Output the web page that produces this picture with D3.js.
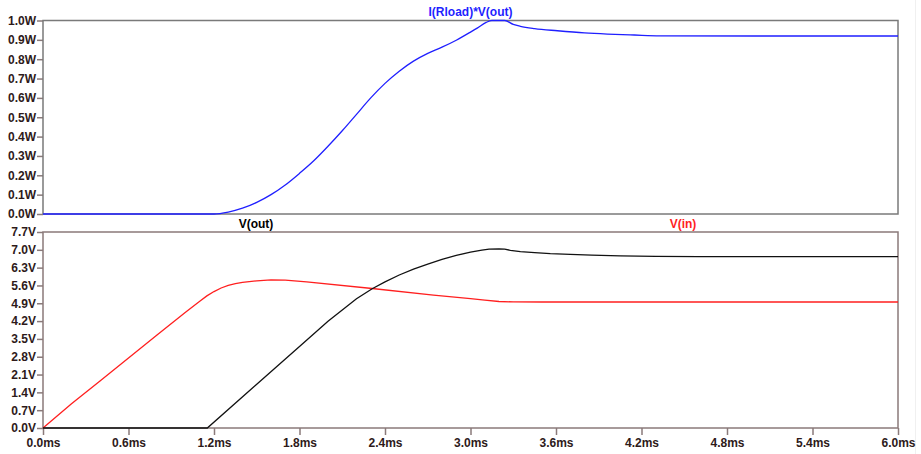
<!DOCTYPE html>
<html>
<head>
<meta charset="utf-8">
<script src="https://cdn.jsdelivr.net/npm/d3@7"></script>
<style>
  html, body { margin: 0; padding: 0; background: #fff; }
  svg text { font-family: "Liberation Sans", Arial, sans-serif; font-weight: bold; font-size: 12px; }
</style>
</head>
<body>
<div id="chart"></div>
<script>
// time axis (ms)
const timeTicks = [0, 0.6, 1.2, 1.8, 2.4, 3.0, 3.6, 4.2, 4.8, 5.4, 6.0];
const powerTicks = [0, 0.1, 0.2, 0.3, 0.4, 0.5, 0.6, 0.7, 0.8, 0.9, 1.0];
const voltTicks = [0, 0.7, 1.4, 2.1, 2.8, 3.5, 4.2, 4.9, 5.6, 6.3, 7.0, 7.7];

// I(Rload)*V(out), W
const powerT = [0, 1.2, 1.3, 1.4, 1.5, 1.6, 1.7, 1.8, 1.9, 2.0, 2.1, 2.2, 2.3, 2.4, 2.5, 2.6, 2.7, 2.8, 2.9, 3.0, 3.05, 3.11, 3.15, 3.24, 3.3, 3.35, 3.45, 3.61, 3.8, 3.96, 4.15, 4.33, 5.0, 6.0];
const powerW = [0, 0, 0.01, 0.03, 0.06, 0.10, 0.15, 0.21, 0.275, 0.35, 0.43, 0.515, 0.60, 0.675, 0.738, 0.79, 0.83, 0.862, 0.898, 0.94, 0.962, 0.99, 1.0, 1.0, 0.98, 0.97, 0.958, 0.947, 0.936, 0.930, 0.925, 0.921, 0.92, 0.92];

// V(out), V
const voutT = [0, 1.153, 1.5, 1.8, 2.0, 2.2, 2.31, 2.4, 2.5, 2.6, 2.7, 2.8, 2.9, 3.0, 3.08, 3.13, 3.2, 3.24, 3.28, 3.35, 3.45, 3.56, 3.7, 3.85, 4.05, 4.3, 4.6, 6.0];
const voutV = [0, 0, 1.72, 3.20, 4.19, 5.08, 5.47, 5.74, 6.01, 6.24, 6.44, 6.62, 6.78, 6.91, 6.99, 7.03, 7.04, 7.03, 6.98, 6.93, 6.89, 6.85, 6.82, 6.79, 6.76, 6.74, 6.73, 6.73];

// V(in), V
const vinT = [0, 0.2, 0.4, 0.6, 0.8, 1.0, 1.1, 1.15, 1.2, 1.25, 1.3, 1.35, 1.4, 1.5, 1.6, 1.7, 1.85, 2.31, 2.74, 3.0, 3.1, 3.2, 3.3, 3.5, 4.0, 5.0, 6.0];
const vinV = [0, 0.95, 1.85, 2.75, 3.65, 4.55, 4.98, 5.19, 5.36, 5.50, 5.60, 5.67, 5.72, 5.78, 5.82, 5.81, 5.74, 5.48, 5.22, 5.08, 5.02, 4.97, 4.955, 4.95, 4.95, 4.95, 4.95];

const W = 921, H = 454;
const left = 43, right = 898;
const top1 = 20.5, bot1 = 214;
const top2 = 232, bot2 = 428;

const svg = d3.select("#chart").append("svg")
  .attr("width", W).attr("height", H);

const x = d3.scaleLinear().domain([0, 6]).range([left, right]);
const yP = d3.scaleLinear().domain([0, 1]).range([bot1, top1]);
const yV = d3.scaleLinear().domain([0, 7.7]).range([bot2, top2]);

const labelColor = "#2e1a1a";
const tickColor = "#8a7a7a";

// faint window edge
svg.append("line").attr("x1", 915.5).attr("x2", 915.5).attr("y1", 0).attr("y2", H)
  .attr("stroke", "#f0f0f0");

function styleAxis(g) {
  g.select(".domain").remove();
  g.selectAll(".tick line").attr("stroke", tickColor).attr("stroke-width", 1.5);
  g.selectAll(".tick text").attr("fill", labelColor).style("font-size", "12px");
}

// top panel
svg.append("g").attr("transform", `translate(${left},0)`)
  .call(d3.axisLeft(yP).tickValues(powerTicks).tickSize(6).tickPadding(1)
    .tickFormat((d) => d.toFixed(1) + "W"))
  .call(styleAxis);

svg.append("rect")
  .attr("x", left).attr("y", top1).attr("width", right - left).attr("height", bot1 - top1)
  .attr("fill", "none").attr("stroke", "#7a7a7a").attr("stroke-width", 1.5);

// bottom panel
svg.append("g").attr("transform", `translate(${left},0)`)
  .call(d3.axisLeft(yV).tickValues(voltTicks).tickSize(6).tickPadding(1)
    .tickFormat((d) => d.toFixed(1) + "V"))
  .call(styleAxis);

svg.append("g").attr("transform", `translate(0,${bot2})`)
  .call(d3.axisBottom(x).tickValues(timeTicks).tickSize(7).tickPadding(3)
    .tickFormat((d) => d.toFixed(1) + "ms"))
  .call(styleAxis);

svg.append("rect")
  .attr("x", left).attr("y", top2).attr("width", right - left).attr("height", bot2 - top2)
  .attr("fill", "none").attr("stroke", tickColor).attr("stroke-width", 1.5);

// traces
const line = (ys, curve) => d3.line()
  .x((d) => x(d[0]))
  .y((d) => ys(d[1]))
  .curve(curve);

const zip = (a, b) => a.map((t, i) => [t, b[i]]);

svg.append("path").datum(zip(powerT, powerW))
  .attr("d", line(yP, d3.curveMonotoneX)).attr("fill", "none").attr("stroke", "#1f1fff").attr("stroke-width", 1.3);

svg.append("path").datum(zip(vinT, vinV))
  .attr("d", line(yV, d3.curveLinear)).attr("fill", "none").attr("stroke", "#ff1f1f").attr("stroke-width", 1.3);

svg.append("path").datum(zip(voutT, voutV))
  .attr("d", line(yV, d3.curveLinear)).attr("fill", "none").attr("stroke", "#111").attr("stroke-width", 1.3);

// trace titles
svg.append("text").attr("x", (left + right) / 2).attr("y", 16)
  .attr("text-anchor", "middle").attr("fill", "#1f1fff").text("I(Rload)*V(out)");
svg.append("text").attr("x", 256).attr("y", 228)
  .attr("text-anchor", "middle").attr("fill", "#000").text("V(out)");
svg.append("text").attr("x", 683).attr("y", 228)
  .attr("text-anchor", "middle").attr("fill", "#ff1f1f").text("V(in)");
</script>
</body>
</html>
